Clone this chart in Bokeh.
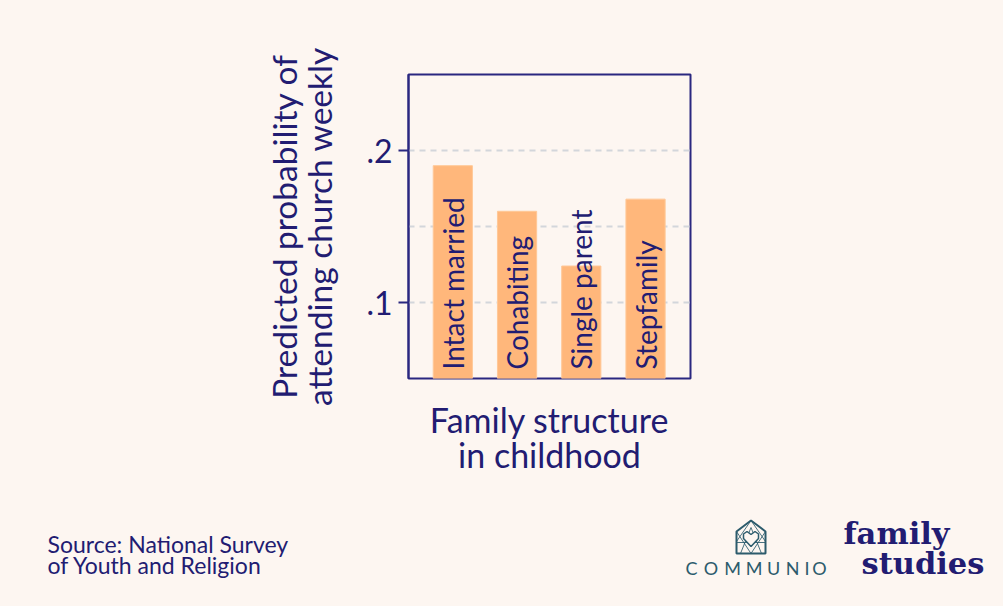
import math
from bokeh.plotting import figure
from bokeh.layouts import column
from bokeh.models import ColumnDataSource, Range1d, FixedTicker
from bokeh.core.properties import value
from bokeh.embed import file_html
from bokeh.resources import INLINE

# ---- data ----
categories = ["Intact married", "Cohabiting", "Single parent", "Stepfamily"]
probabilities = [0.190, 0.160, 0.124, 0.168]
y_ticks = [0.1, 0.2]
y_tick_labels = [".1", ".2"]
grid_ticks = [0.1, 0.15, 0.2]
y_title = "Predicted probability of\nattending church weekly"
x_title = "Family structure\nin childhood"
source_note = ["Source: National Survey", "of Youth and Religion"]

BG = "#FDF6F1"
NAVY = "#221C72"
FRAME = "#2A2780"
BAR = "#FFB77B"
TEAL = "#2C5B6C"
FONT = "Lato"

W, H = 1003, 606
TOP_H = 500
positions = list(range(1, len(categories) + 1))
src = ColumnDataSource(dict(x=positions, top=probabilities, label=categories,
                            base=[0.05] * len(categories)))

FL, FR, FT, FB = 408, 690, 74, 378  # frame box on canvas
p = figure(width=W, height=TOP_H, output_backend="svg", toolbar_location=None,
           x_range=Range1d(0.31, 4.70), y_range=Range1d(0.05, 0.25),
           min_border_left=FL, min_border_right=W - FR,
           min_border_top=FT, min_border_bottom=TOP_H - FB)
p.frame_align = False
p.background_fill_color = BG
p.border_fill_color = BG
p.outline_line_color = FRAME
p.outline_line_width = 2

xa = p.xaxis[0]
xa.ticker = FixedTicker(ticks=[])
xa.axis_line_color = None
xa.major_tick_line_color = None
xa.minor_tick_line_color = None
xa.major_tick_out = 0
xa.major_label_standoff = 0
xa.axis_label = x_title
xa.axis_label_text_font = FONT
xa.axis_label_text_font_size = "34px"
xa.axis_label_text_font_style = "normal"
xa.axis_label_text_color = NAVY
xa.axis_label_text_line_height = 0.86
xa.axis_label_standoff = 20
p.xgrid.visible = False

ya = p.yaxis[0]
ya.ticker = FixedTicker(ticks=y_ticks)
ya.major_label_overrides = {t: l for t, l in zip(y_ticks, y_tick_labels)}
ya.major_label_text_font = FONT
ya.major_label_text_font_size = "32px"
ya.major_label_text_color = NAVY
ya.major_label_standoff = 6
ya.major_tick_in = 0
ya.major_tick_out = 10
ya.major_tick_line_color = FRAME
ya.major_tick_line_width = 2
ya.minor_tick_line_color = None
ya.axis_line_color = FRAME
ya.axis_line_width = 2
ya.axis_label = y_title
ya.axis_label_text_font = FONT
ya.axis_label_text_font_size = "33.5px"
ya.axis_label_text_font_style = "normal"
ya.axis_label_text_color = NAVY
ya.axis_label_text_line_height = 0.88
ya.axis_label_standoff = 24

p.ygrid.ticker = FixedTicker(ticks=grid_ticks)
p.ygrid.grid_line_color = "#D3D6DB"
p.ygrid.grid_line_width = 2
p.ygrid.grid_line_dash = "6 5"

p.vbar(x="x", top="top", bottom="base", width=0.61, source=src,
       fill_color=BAR, line_color="#FFC897", line_width=1)

p.text(x="x", y="base", text="label", source=src, angle=math.pi / 2,
       y_offset=-9, text_align="left", text_baseline="middle",
       text_font=value(FONT), text_font_size="28px", text_color=NAVY)

# ---- footer strip: source note and logos (canvas-like coordinates) ----
f = figure(width=W, height=H - TOP_H, output_backend="svg", toolbar_location=None,
           x_range=Range1d(0, W), y_range=Range1d(H, TOP_H),
           min_border=0, min_border_left=0, min_border_right=0,
           min_border_top=0, min_border_bottom=0)
f.frame_align = False
f.axis.visible = False
f.grid.visible = False
f.outline_line_color = None
f.background_fill_color = BG
f.border_fill_color = BG

f.text(x=[47, 47], y=[543, 564], text=source_note, text_font=value(FONT),
       text_font_size="23px", text_color=NAVY, text_baseline="alphabetic")

letters = list("COMMUNIO")
letter_x = [691, 710.5, 732, 753.5, 773, 792, 806.5, 819]
f.text(x=letter_x, y=[567] * len(letters), text=letters, text_font=value(FONT),
       text_font_size="18px", text_color=TEAL, text_align="center",
       text_baseline="alphabetic")

# icon: house outline, lattice, heart
f.patch(x=[736, 765, 765, 750.5, 736], y=[553, 553, 531, 520, 531],
        fill_color=None, line_color=TEAL, line_width=2)
f.multi_line(xs=[[736, 750.5, 765], [736, 750.5, 765], [740, 750.5, 761], [736, 765]],
             ys=[[531, 553, 531], [541, 520, 541], [553, 527, 553], [542, 542]],
             line_color=TEAL, line_width=1, line_alpha=0.85)
f.patch(x=[750.5, 743, 743, 746.5, 750.5, 754.5, 758, 758],
        y=[546, 538, 533.5, 531, 534, 531, 533.5, 538],
        fill_color=BG, line_color=TEAL, line_width=1.5)

f.text(x=[843, 861], y=[532, 562], text=["family", "studies"],
       text_font=value("DejaVu Serif"), text_font_style="bold",
       text_font_size="30.5px", text_color=NAVY, text_baseline="alphabetic")

layout = column(p, f, spacing=0)
layout.styles = {"background-color": BG}
open("out.html", "w").write(file_html(layout, INLINE))
